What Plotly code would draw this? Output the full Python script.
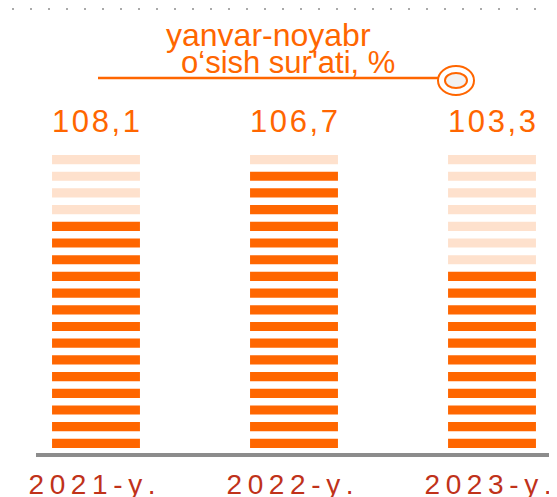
import plotly.graph_objects as go

# data
years = ['2021-y.', '2022-y.', '2023-y.']
growth = [108.1, 106.7, 103.3]
stripes_total = 18
stripes_filled = [14, 17, 11]

DARK = '#FF6600'
LIGHT = '#FEE1CD'
RED = '#C0321A'
FONT = 'Liberation Sans, Arial, sans-serif'

# page body keeps an 8px margin, so the figure is shrunk and shifted by it
OFF = 8
W, H = 557 - OFF, 497 - OFF
L, R, B = 36 - OFF, 5, 44


def px_x(p):
    return (p - OFF - L) / (W - L - R)


def px_y(p):
    return (H - B - (p - OFF)) / (H - B)


def spaced(s, sep='\u200a'):
    return sep.join(s)


# one bar per stripe, stacked with base
xs, bases, colors = [], [], []
for yr, n in zip(years, stripes_filled):
    for i in range(stripes_total):
        xs.append(yr)
        bases.append(i)
        colors.append(DARK if i < n else LIGHT)

fig = go.Figure()
fig.add_trace(go.Bar(x=xs, y=[0.55] * len(xs), base=bases,
                     marker=dict(color=colors, line=dict(width=0)),
                     width=0.444, hoverinfo='skip'))

# value labels above bars
for yr, v in zip(years, growth):
    fig.add_annotation(x=yr, y=stripes_total + 1.55, xref='x', yref='y',
                       text=spaced(f'{v:.1f}'.replace('.', ',')), xanchor='center', yanchor='middle',
                       showarrow=False, font=dict(size=31, color=DARK, family=FONT))

# title
fig.add_annotation(x=px_x(268), y=px_y(35), xref='paper', yref='paper', text='yanvar-noyabr',
                   xanchor='center', yanchor='middle',
                   showarrow=False, font=dict(size=32, color=DARK, family=FONT))
fig.add_annotation(x=px_x(288), y=px_y(63), xref='paper', yref='paper', text="o‘sish sur'ati, %",
                   xanchor='center', yanchor='middle',
                   showarrow=False, font=dict(size=31, color=DARK, family=FONT))

# decorations
fig.add_shape(type='line', xref='paper', yref='paper', x0=px_x(12), x1=px_x(557),
              y0=px_y(9), y1=px_y(9), line=dict(color='#AAAAAA', width=2, dash='2px,16px'))
fig.add_shape(type='line', xref='paper', yref='paper', x0=px_x(98), x1=px_x(438),
              y0=px_y(78), y1=px_y(78), line=dict(color=DARK, width=2.5))
fig.add_shape(type='circle', xref='paper', yref='paper', x0=px_x(438), x1=px_x(474),
              y0=px_y(95), y1=px_y(66), line=dict(color=DARK, width=2), fillcolor='white')
fig.add_shape(type='circle', xref='paper', yref='paper', x0=px_x(445), x1=px_x(467),
              y0=px_y(88), y1=px_y(73), line=dict(color=DARK, width=2), fillcolor='#F2F2F2')

fig.update_layout(
    width=W, height=H,
    margin=dict(l=L, r=R, t=0, b=B, pad=0),
    paper_bgcolor='white', plot_bgcolor='white',
    barmode='overlay', showlegend=False,
    xaxis=dict(range=[-0.303, 2.303], showgrid=False, zeroline=False, automargin=False,
               showline=True, linecolor='#8C8C8C', linewidth=4,
               tickmode='array', tickvals=years, ticktext=[spaced(y, '\u2009') for y in years],
               ticks='outside', ticklen=3, tickcolor='rgba(0,0,0,0)', ticklabelshift=-4,
               tickfont=dict(size=28, color=RED, family=FONT)),
    yaxis=dict(range=[-0.3, 26.83 - OFF / 16.7], visible=False, automargin=False),
)

fig.write_html('out.html')
